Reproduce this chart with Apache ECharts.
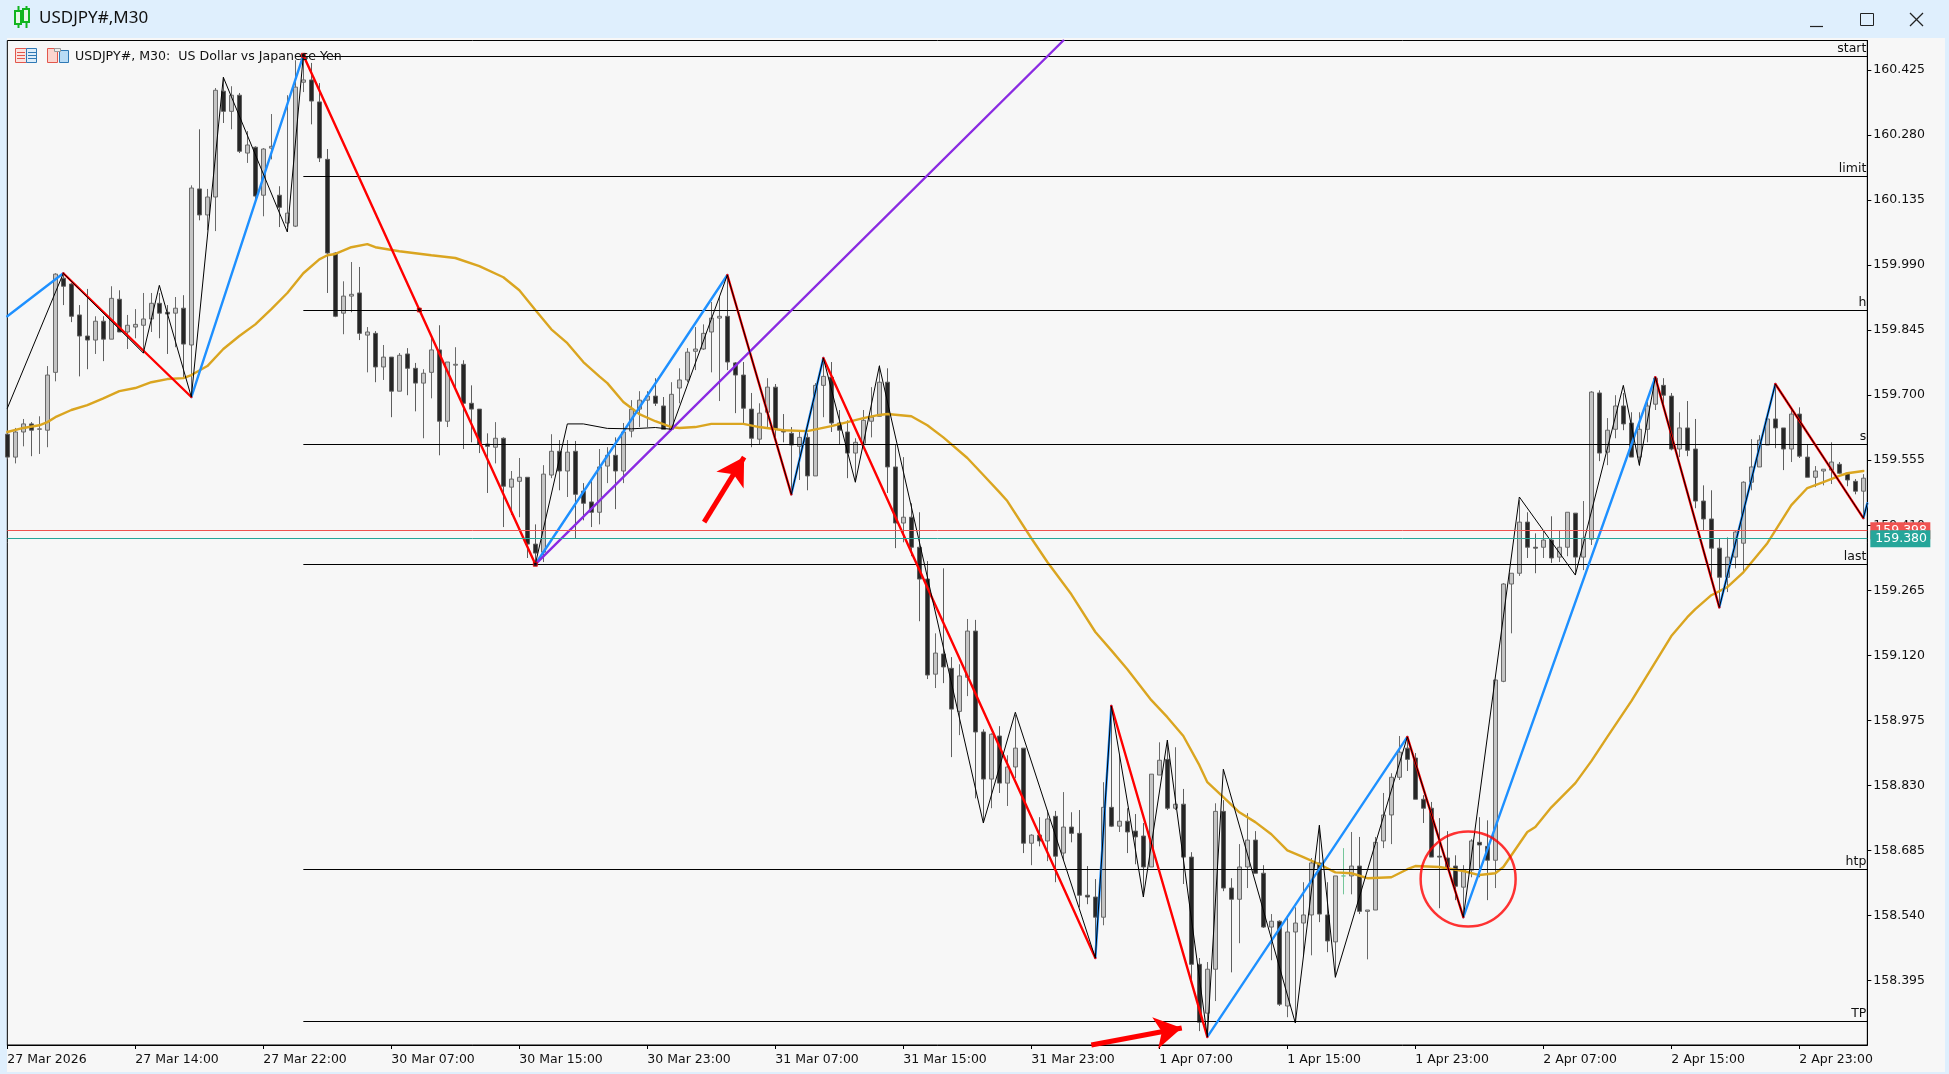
<!DOCTYPE html>
<html>
<head>
<meta charset="utf-8">
<title>USDJPY#,M30</title>
<script src="https://cdn.jsdelivr.net/npm/echarts@6/dist/echarts.min.js"></script>
<style>
    html, body { margin: 0; padding: 0; background: #dfeffd; }
    #chart { width: 1949px; height: 1074px; }
</style>
</head>
<body>
<div id="chart"></div>
<script>
// one row per M30 bar: open, close, low, high
const candles = [
    [159.613,159.562,159.557,159.622],[159.562,159.618,159.548,159.627],[159.618,159.636,159.586,159.647],[159.636,159.622,159.564,159.640],
    [159.624,159.625,159.569,159.653],[159.622,159.745,159.584,159.765],[159.751,159.970,159.731,159.972],[159.961,159.943,159.901,159.972],
    [159.948,159.876,159.863,159.950],[159.879,159.832,159.742,159.901],[159.832,159.823,159.758,159.937],[159.823,159.865,159.792,159.876],
    [159.865,159.825,159.776,159.876],[159.825,159.916,159.825,159.943],[159.914,159.841,159.841,159.934],[159.841,159.856,159.803,159.879],
    [159.852,159.858,159.827,159.892],[159.856,159.870,159.794,159.928],[159.870,159.905,159.841,159.928],[159.905,159.883,159.827,159.928],
    [159.885,159.881,159.792,159.901],[159.883,159.894,159.807,159.919],[159.894,159.814,159.740,159.923],[159.812,160.162,159.700,160.168],
    [160.160,160.102,160.090,160.293],[160.102,160.142,160.068,160.160],[160.142,160.380,160.066,160.385],[160.378,160.333,160.307,160.409],
    [160.333,160.369,160.293,160.389],[160.369,160.244,160.240,160.374],[160.240,160.258,160.218,160.289],[160.253,160.144,160.135,160.255],
    [160.146,160.249,160.099,160.251],[160.251,160.255,160.226,160.327],[160.146,160.119,160.075,160.166],[160.084,160.106,160.075,160.369],
    [160.077,160.387,160.075,160.447],[160.398,160.403,160.376,160.458],[160.403,160.356,160.304,160.441],[160.354,160.229,160.220,160.396],
    [160.226,160.017,159.928,160.249],[160.017,159.876,159.874,160.019],[159.883,159.921,159.836,159.954],[159.921,159.925,159.885,159.997],
    [159.928,159.838,159.823,159.986],[159.834,159.841,159.751,159.852],[159.838,159.763,159.729,159.843],[159.763,159.785,159.734,159.812],
    [159.785,159.709,159.651,159.785],[159.709,159.789,159.709,159.794],[159.792,159.760,159.700,159.805],[159.760,159.727,159.664,159.772],
    [159.727,159.749,159.604,159.758],[159.751,159.801,159.693,159.829],[159.801,159.642,159.566,159.856],[159.642,159.774,159.629,159.774],
    [159.767,159.769,159.711,159.807],[159.769,159.682,159.580,159.778],[159.682,159.669,159.595,159.722],[159.669,159.591,159.571,159.669],
    [159.591,159.586,159.482,159.615],[159.584,159.604,159.548,159.640],[159.604,159.497,159.406,159.606],[159.495,159.513,159.433,159.531],
    [159.508,159.517,159.428,159.560],[159.517,159.368,159.337,159.517],[159.368,159.348,159.326,159.412],[159.350,159.524,159.328,159.544],
    [159.522,159.575,159.515,159.613],[159.575,159.531,159.488,159.600],[159.531,159.573,159.473,159.600],[159.575,159.479,159.381,159.598],
    [159.486,159.459,159.421,159.504],[159.462,159.439,159.406,159.511],[159.439,159.540,159.412,159.580],[159.542,159.566,159.504,159.584],
    [159.566,159.531,159.446,159.606],[159.531,159.618,159.504,159.638],[159.620,159.669,159.606,159.689],[159.669,159.689,159.629,159.709],
    [159.689,159.698,159.629,159.709],[159.698,159.682,159.676,159.738],[159.676,159.624,159.624,159.696],[159.624,159.702,159.622,159.729],
    [159.716,159.734,159.682,159.760],[159.734,159.796,159.729,159.805],[159.798,159.803,159.756,159.852],[159.803,159.838,159.801,159.858],
    [159.841,159.872,159.751,159.908],[159.872,159.876,159.687,159.919],[159.876,159.774,159.756,159.968],[159.772,159.745,159.660,159.774],
    [159.745,159.671,159.638,159.774],[159.669,159.604,159.584,159.705],[159.602,159.660,159.591,159.682],[159.662,159.718,159.629,159.738],
    [159.718,159.624,159.606,159.725],[159.622,159.618,159.595,159.658],[159.615,159.589,159.482,159.629],[159.586,159.606,159.511,159.622],
    [159.606,159.520,159.488,159.615],[159.520,159.722,159.520,159.727],[159.722,159.742,159.651,159.783],[159.740,159.638,159.618,159.774],
    [159.638,159.622,159.591,159.667],[159.618,159.571,159.515,159.644],[159.571,159.595,159.506,159.604],[159.593,159.644,159.593,159.667],
    [159.642,159.651,159.606,159.718],[159.653,159.729,159.653,159.767],[159.729,159.540,159.482,159.760],[159.540,159.415,159.359,159.589],
    [159.415,159.428,159.372,159.562],[159.428,159.361,159.341,159.459],[159.361,159.290,159.196,159.439],[159.290,159.076,159.067,159.330],
    [159.078,159.125,159.047,159.169],[159.123,159.094,159.058,159.314],[159.091,159.000,158.893,159.116],[158.995,159.074,158.942,159.100],
    [159.071,159.174,159.029,159.201],[159.174,158.949,158.801,159.199],[158.949,158.844,158.746,158.955],[158.844,158.944,158.779,158.946],
    [158.940,158.835,158.813,158.962],[158.835,158.871,158.784,158.897],[158.871,158.913,158.846,158.987],[158.913,158.701,158.679,158.913],
    [158.701,158.719,158.652,158.721],[158.719,158.706,158.694,158.759],[158.706,158.755,158.661,158.775],[158.761,158.672,158.614,158.773],
    [158.679,158.737,158.663,158.815],[158.737,158.723,158.703,158.770],[158.723,158.585,158.558,158.775],[158.585,158.581,158.565,158.650],
    [158.581,158.536,158.445,158.621],[158.536,158.781,158.518,158.837],[158.781,158.739,158.737,159.007],[158.739,158.750,158.726,158.897],
    [158.750,158.726,158.679,158.779],[158.728,158.715,158.654,158.766],[158.717,158.648,158.581,158.746],[158.648,158.855,158.648,158.855],
    [158.853,158.886,158.853,158.926],[158.888,158.779,158.775,158.931],[158.779,158.788,158.775,158.915],[158.788,158.670,158.610,158.822],
    [158.670,158.431,158.396,158.681],[158.431,158.302,158.282,158.445],[158.322,158.420,158.271,158.436],[158.420,158.772,158.349,158.790],
    [158.772,158.601,158.594,158.797],[158.601,158.576,158.413,158.623],[158.576,158.648,158.478,158.699],[158.648,158.708,158.601,158.768],
    [158.708,158.634,158.634,158.728],[158.634,158.514,158.512,158.652],[158.514,158.527,158.440,158.543],[158.527,158.342,158.338,158.529],
    [158.338,158.503,158.313,158.534],[158.503,158.523,158.302,158.558],[158.523,158.541,158.451,158.614],[158.541,158.657,158.451,158.668],
    [158.657,158.543,158.525,158.741],[158.541,158.483,158.458,158.614],[158.481,158.628,158.402,158.628],[158.628,158.628,158.587,158.690],
    [158.628,158.650,158.587,158.726],[158.650,158.549,158.543,158.715],[158.549,158.552,158.442,158.552],[158.552,158.703,158.552,158.715],
    [158.706,158.764,158.690,158.813],[158.764,158.848,158.699,158.857],[158.848,158.904,158.842,158.940],[158.913,158.888,158.862,158.938],
    [158.891,158.799,158.799,158.902],[158.799,158.779,158.746,158.808],[158.779,158.670,158.670,158.793],[158.672,158.670,158.556,158.757],
    [158.668,158.648,158.641,158.728],[158.650,158.605,158.574,158.674],[158.603,158.641,158.536,158.652],[158.641,158.706,158.625,158.710],
    [158.703,158.697,158.625,158.759],[158.694,158.663,158.574,158.752],[158.663,159.065,158.601,159.065],[159.062,159.279,159.060,159.281],
    [159.279,159.303,159.169,159.303],[159.303,159.417,159.297,159.466],[159.417,159.361,159.337,159.439],[159.361,159.359,159.303,159.392],
    [159.361,159.377,159.337,159.399],[159.377,159.337,159.326,159.430],[159.339,159.361,159.328,159.399],[159.361,159.439,159.341,159.439],
    [159.437,159.339,159.299,159.437],[159.339,159.381,159.310,159.464],[159.379,159.707,159.366,159.709],[159.705,159.571,159.553,159.711],
    [159.573,159.622,159.544,159.649],[159.624,159.676,159.604,159.700],[159.676,159.636,159.622,159.705],[159.638,159.562,159.562,159.662],
    [159.562,159.624,159.542,159.662],[159.624,159.676,159.595,159.685],[159.680,159.738,159.667,159.740],[159.722,159.700,159.673,159.738],
    [159.698,159.580,159.577,159.705],[159.580,159.627,159.562,159.662],[159.627,159.577,159.564,159.687],[159.580,159.464,159.448,159.647],
    [159.464,159.424,159.399,159.499],[159.424,159.359,159.292,159.488],[159.359,159.294,159.227,159.381],[159.294,159.339,159.261,159.383],
    [159.339,159.395,159.314,159.399],[159.370,159.506,159.305,159.508],[159.506,159.540,159.488,159.602],[159.540,159.600,159.540,159.611],
    [159.589,159.647,159.589,159.649],[159.647,159.627,159.582,159.725],[159.627,159.580,159.533,159.627],[159.580,159.658,159.551,159.673],
    [159.658,159.564,159.560,159.673],[159.562,159.517,159.517,159.589],[159.517,159.531,159.495,159.542],[159.531,159.535,159.499,159.535],
    [159.533,159.551,159.502,159.595],[159.546,159.526,159.524,159.551],[159.526,159.511,159.497,159.528],[159.508,159.486,159.479,159.513],
    [159.486,159.515,159.426,159.524]
];

// moving average read at [bar, price]
const maPoints = [
    [0,159.618],[2,159.627],[4,159.633],[5,159.640],[6,159.651],[8,159.667],[10,159.678],[12,159.693],[14,159.709],[16,159.716],
    [18,159.729],[20,159.736],[22,159.738],[23,159.745],[25,159.765],[27,159.803],[29,159.832],[31,159.858],[33,159.892],[35,159.928],
    [37,159.972],[39,160.003],[40,160.012],[41,160.015],[43,160.030],[45,160.037],[46,160.030],[49,160.021],[53,160.012],[56,160.006],
    [59,159.988],[62,159.963],[64,159.934],[66,159.890],[68,159.847],[70,159.816],[72,159.774],[74,159.742],[75,159.727],[77,159.685],
    [79,159.658],[81,159.642],[83,159.629],[84,159.627],[86,159.629],[88,159.636],[92,159.636],[94,159.629],[97,159.622],[100,159.620],
    [103,159.631],[105,159.640],[107,159.649],[109,159.656],[110,159.658],[113,159.653],[115,159.633],[117,159.606],[120,159.560],[122,159.522],
    [124,159.484],[125,159.464],[128,159.381],[130,159.328],[133,159.256],[136,159.172],[138,159.131],[140,159.089],[143,159.020],[145,158.982],
    [147,158.940],[149,158.875],[150,158.837],[152,158.804],[154,158.770],[156,158.748],[158,158.721],[160,158.685],[162,158.670],[164,158.654],
    [166,158.636],[168,158.634],[170,158.623],[173,158.625],[175,158.643],[176,158.650],[179,158.648],[182,158.639],[184,158.630],[186,158.634],
    [187,158.648],[190,158.726],[191,158.737],[193,158.781],[196,158.835],[198,158.884],[200,158.938],[203,159.018],[205,159.076],[206,159.105],
    [208,159.163],[210,159.205],[211,159.223],[213,159.254],[215,159.272],[217,159.305],[220,159.370],[223,159.455],[225,159.493],[227,159.506],
    [229,159.520],[230,159.526],[232,159.531]
];

// up legs
const blueLegs = [
    [[0,159.876],[7,159.972]],
    [[23,159.696],[37,160.458]],
    [[66,159.323],[90,159.968]],
    [[98,159.479],[102,159.783]],
    [[136,158.445],[138,159.007]],
    [[150,158.269],[175,158.938]],
    [[182,158.536],[206,159.740]],
    [[214,159.227],[221,159.725]],
    [[232,159.426],[232.5,159.459]]
];
// down legs
const redLegs = [
    [[7,159.972],[23,159.696]],
    [[37,160.458],[66,159.323]],
    [[90,159.968],[98,159.479]],
    [[102,159.783],[136,158.445]],
    [[138,159.007],[150,158.269]],
    [[175,158.938],[182,158.536]],
    [[206,159.740],[214,159.227]],
    [[221,159.725],[232,159.426]]
];
// thin zigzag, it has a gap between bars 37 and 66
const zigzagFirst = [
    [0,159.671],[7,159.972],[17,159.794],[19,159.945],[23,159.696],[27,160.409],[35,160.064],[37,160.458]
];
const zigzagSecond = [
    [66,159.323],[70,159.636],[72,159.636],[75,159.626],[78,159.625],[81,159.628],[83,159.624],[90,159.968],[98,159.479],[102,159.783],
    [106,159.506],[109,159.765],[122,158.746],[126,158.993],[136,158.445],[138,159.007],[142,158.581],[145,158.931],[150,158.269],
    [152,158.866],[161,158.300],[164,158.741],[166,158.402],[175,158.938],[182,158.536],[189,159.473],[196,159.299],[202,159.722],
    [204,159.544],[206,159.740],[214,159.227],[221,159.725],[232,159.426],[232.5,159.459]
];
const trendLine = [[66,159.323],[132,160.491]];

const levelNames = ['start', 'limit', 'h', 's', 'last', 'htp', 'TP'];
const levelPrices = [160.456, 160.189, 159.890, 159.591, 159.323, 158.643, 158.304];
const levelStartBar = 37;
const anchorPoints = [[37,160.458],[66,159.323],[51.5,159.890]];

const bidPrice = 159.380;
const askPrice = 159.398;
const greenBar = 167;
const circleCenter = [182.6, 158.621];
const arrowOne = [[87.1,159.417],[92.1,159.562]];
const arrowTwo = [[135.5,158.251],[146.8,158.289]];

const priceTicks = [160.425,160.280,160.135,159.990,159.845,159.700,159.555,159.410,159.265,159.120,158.975,158.830,158.685,158.540,158.395];
const timeLabels = ['27 Mar 2026','27 Mar 14:00','27 Mar 22:00','30 Mar 07:00','30 Mar 15:00','30 Mar 23:00','31 Mar 07:00','31 Mar 15:00',
    '31 Mar 23:00','1 Apr 07:00','1 Apr 15:00','1 Apr 23:00','2 Apr 07:00','2 Apr 15:00','2 Apr 23:00'];
const barsPerLabel = 16;
const lastBar = 232.5;

const UI_FONT = '"DejaVu Sans", sans-serif';

function createChart(id) {
    return echarts.init(document.getElementById(id), null, { renderer: 'canvas' });
}

function lineSeries(name, points, color, width, z) {
    return {
        name: name,
        type: 'line',
        data: points,
        showSymbol: false,
        silent: true,
        clip: true,
        z: z,
        lineStyle: { color: color, width: width, cap: 'round' }
    };
}

function priceTag(name, price, color, z) {
    return {
        name: name,
        type: 'line',
        data: [],
        z: z,
        markLine: {
            silent: true,
            symbol: 'none',
            animation: false,
            z: z,
            lineStyle: { color: color, width: 1, type: 'solid' },
            label: {
                position: 'end',
                distance: 3,
                color: '#fff',
                backgroundColor: color,
                fontFamily: UI_FONT,
                fontSize: 12.5,
                width: 52,
                align: 'left',
                padding: [2, 3, 2, 5],
                formatter: price.toFixed(3)
            },
            data: [[{ coord: [0, price] }, { coord: [lastBar, price] }]]
        }
    };
}

function arrowSeries(name, points) {
    return {
        name: name,
        type: 'line',
        data: [],
        z: 9,
        markLine: {
            silent: true,
            symbol: ['none', 'arrow'],
            symbolSize: [24, 27],
            animation: false,
            label: { show: false },
            lineStyle: { color: '#ff0000', width: 5, type: 'solid' },
            data: [[{ coord: points[0] }, { coord: points[1] }]]
        }
    };
}

function candleData() {
    return candles.map(function (c, i) {
        var item = { value: [i, c[0], c[1], c[2], c[3]] };
        if (i == greenBar) {
            item.itemStyle = { color: '#74c69a', color0: '#74c69a', borderColor: '#74c69a', borderColor0: '#74c69a' };
        }
        return item;
    });
}

function box(x, y, w, h, fill, stroke, width) {
    return {
        type: 'rect',
        shape: { x: x, y: y, width: w, height: h },
        style: { fill: fill, stroke: stroke || null, lineWidth: width || 1 },
        silent: true,
        z: 20
    };
}

function stroke(x1, y1, x2, y2, color, width) {
    return {
        type: 'line',
        shape: { x1: x1, y1: y1, x2: x2, y2: y2 },
        style: { stroke: color, lineWidth: width || 1 },
        silent: true,
        z: 20
    };
}

// window frame, buttons and the two small toolbar icons
function windowGraphics() {
    var panel = box(7, 38, 1938, 1034, '#f7f7f7');
    panel.z = -10;
    return [
        panel,
        stroke(18.5, 6, 18.5, 28, '#12b51f', 2), stroke(26.5, 6, 26.5, 28, '#12b51f', 2),
        box(15, 11, 6, 13, '#e8f8e8', '#12b51f', 2), box(23, 9, 6, 13, '#e8f8e8', '#12b51f', 2),
        {
            type: 'text', silent: true, z: 20,
            style: { x: 39, y: 18, text: 'USDJPY#,M30', fill: '#111', font: '17px "Noto Sans", sans-serif', verticalAlign: 'middle' }
        },
        stroke(1810, 26.5, 1823, 26.5, '#222', 1.2),
        box(1860.5, 13.5, 13, 12, 'none', '#222'),
        stroke(1910, 13, 1923, 26, '#222', 1.2), stroke(1923, 13, 1910, 26, '#222', 1.2),
        // table icon
        box(15.5, 48.5, 11, 14, '#fbe3e0', '#e2574c'), box(26.5, 48.5, 10, 14, '#dcedfa', '#2f79b5'),
        stroke(17, 52.5, 25, 52.5, '#e2574c'), stroke(17, 55.5, 25, 55.5, '#e2574c'), stroke(17, 58.5, 25, 58.5, '#e2574c'),
        stroke(28, 52.5, 36, 52.5, '#2f79b5'), stroke(28, 55.5, 36, 55.5, '#2f79b5'), stroke(28, 58.5, 36, 58.5, '#2f79b5'),
        // sheets icon
        box(47.5, 48.5, 10, 14, '#fbd5cf', '#e2574c'), box(59.5, 50.5, 9, 12, '#b9dcf6', '#2f79b5'),
        box(54.5, 48.5, 6, 3, '#eeeeee', '#9a9a9a'),
        {
            type: 'text', silent: true, z: 20,
            style: { x: 75, y: 57, text: 'USDJPY#, M30:  US Dollar vs Japanese Yen', fill: '#111', font: '12.6px ' + UI_FONT, verticalAlign: 'middle' }
        }
    ];
}

var chart = createChart('chart');
var series = [
    {
        name: 'USDJPY#',
        type: 'candlestick',
        data: candleData(),
        barWidth: 5,
        z: 2,
        silent: true,
        itemStyle: {
            color: '#c4c4c4',
            color0: '#262626',
            borderColor: '#6a6a6a',
            borderColor0: '#5e5e5e',
            borderWidth: 1
        }
    },
    lineSeries('ma', maPoints, '#daa520', 2.4, 4)
];
blueLegs.forEach(function (leg, i) { series.push(lineSeries('blue' + i, leg, '#1e90ff', 2.4, 5)); });
redLegs.forEach(function (leg, i) { series.push(lineSeries('red' + i, leg, '#ff0000', 2.4, 5)); });
series.push(lineSeries('trend', trendLine, '#8a2be2', 2.4, 5));
series.push(lineSeries('zigzag1', zigzagFirst, '#000', 1, 6));
series.push(lineSeries('zigzag2', zigzagSecond, '#000', 1, 6));
series.push({
    name: 'levels',
    type: 'line',
    data: [],
    z: 3,
    markLine: {
        silent: true,
        symbol: 'none',
        animation: false,
        lineStyle: { color: '#000', width: 1.2, type: 'solid' },
        label: {
            position: 'insideEndTop',
            distance: 1,
            color: '#111',
            fontFamily: UI_FONT,
            fontSize: 12.5,
            formatter: '{b}'
        },
        data: levelNames.map(function (name, i) {
            return [{ name: name, coord: [levelStartBar, levelPrices[i]] }, { coord: [lastBar, levelPrices[i]] }];
        })
    }
});
series.push(priceTag('ask', askPrice, '#ef5350', 7));
series.push(priceTag('bid', bidPrice, '#26a69a', 8));
series.push({
    name: 'anchors',
    type: 'scatter',
    data: anchorPoints,
    symbol: 'rect',
    symbolSize: 4,
    silent: true,
    z: 7,
    itemStyle: { color: '#000', borderColor: '#ff0000', borderWidth: 1 }
});
series.push({
    name: 'circle',
    type: 'scatter',
    data: [circleCenter],
    symbol: 'circle',
    symbolSize: 95,
    silent: true,
    z: 9,
    itemStyle: { color: 'rgba(0,0,0,0)', borderColor: '#ff0000', borderWidth: 2.5 }
});
series.push(arrowSeries('arrow1', arrowOne));
series.push(arrowSeries('arrow2', arrowTwo));

var xTicks = timeLabels.map(function (t, i) { return i * barsPerLabel; });

chart.setOption({
    animation: false,
    backgroundColor: '#dfeffd',
    textStyle: { fontFamily: UI_FONT },
    graphic: { elements: windowGraphics() },
    grid: {
        left: 7.33,
        top: 40.5,
        width: 1860,
        height: 1004.5,
        show: true,
        backgroundColor: '#f7f7f7',
        borderColor: '#000',
        borderWidth: 1
    },
    xAxis: {
        type: 'value',
        min: 0,
        max: lastBar,
        splitLine: { show: false },
        axisLine: { show: true, onZero: false, lineStyle: { color: '#000' } },
        axisTick: { show: true, length: 4, customValues: xTicks, lineStyle: { color: '#000' } },
        axisLabel: {
            customValues: xTicks,
            align: 'left',
            margin: 8,
            color: '#111',
            fontFamily: UI_FONT,
            fontSize: 12.5,
            hideOverlap: false,
            formatter: function (v) { return timeLabels[Math.round(v / barsPerLabel)]; }
        }
    },
    yAxis: {
        type: 'value',
        position: 'right',
        min: 158.251,
        max: 160.491,
        scale: true,
        splitLine: { show: false },
        axisLine: { show: true, onZero: false, lineStyle: { color: '#000' } },
        axisTick: { show: true, length: 4, customValues: priceTicks, lineStyle: { color: '#000' } },
        axisLabel: {
            customValues: priceTicks,
            margin: 6,
            color: '#111',
            fontFamily: UI_FONT,
            fontSize: 12.5,
            padding: [7, 0, 0, 0],
            formatter: function (v) { return v.toFixed(3); }
        }
    },
    series: series
});
</script>
</body>
</html>
